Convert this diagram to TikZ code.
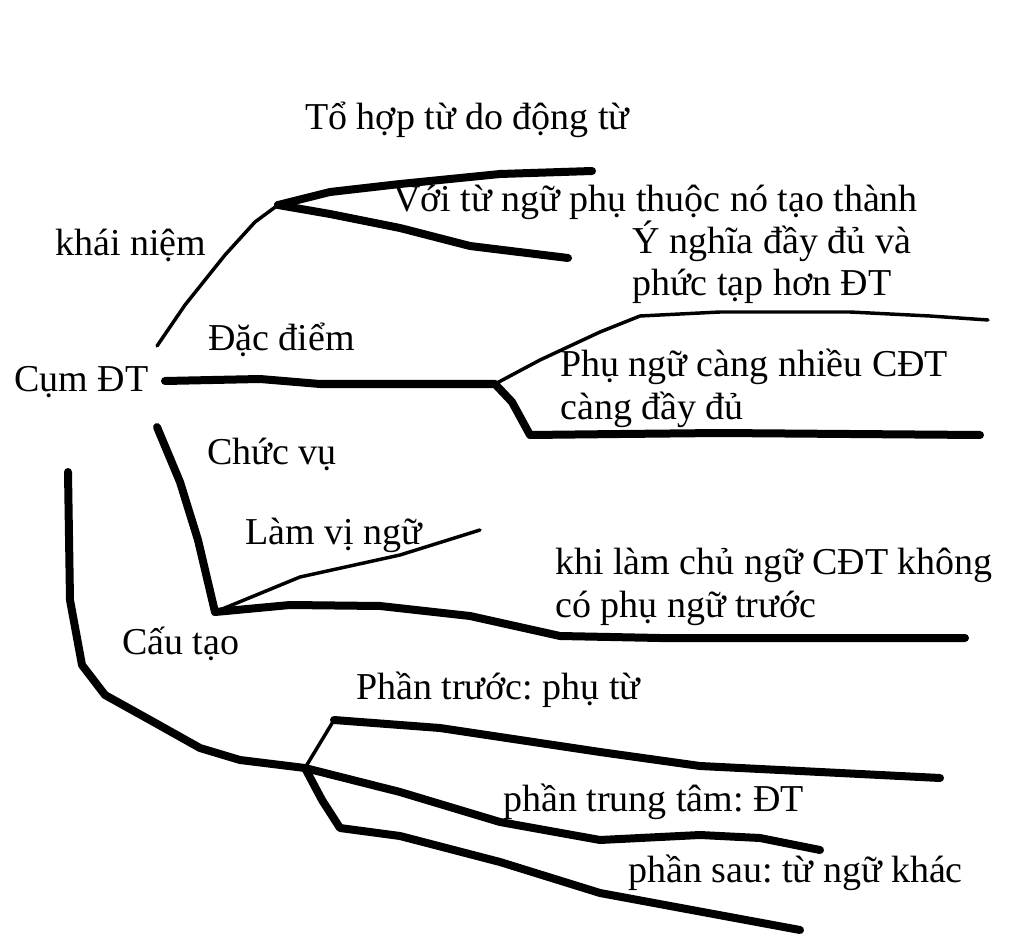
\documentclass[tikz,border=0pt]{standalone}
\usepackage{fontspec}
\setmainfont{Liberation Serif}
\frenchspacing
\tikzstyle{sketch}=[x=0.75pt,y=-0.75pt]
\tikzstyle{branch}=[line width=6pt,line cap=round,line join=round]
\tikzstyle{twig}=[line width=2.6pt,line cap=round,line join=round]
\tikzstyle{label}=[anchor=base west,inner sep=0pt,align=left]

\begin{document}
\begin{tikzpicture}[sketch,font=\fontsize{28.5}{32}\selectfont]
	\useasboundingbox (0,0) rectangle (1024,948);
	\coordinate (kn) at (278,205);
	\coordinate (dd) at (495,384);
	\coordinate (cv) at (215,612);
	\coordinate (ct) at (305,768);
%
	\node[label] (root) at (14,392) {Cụm ĐT};
	\node[label] (khainiem) at (55,256) {khái niệm};
	\node[label] (tohop) at (305,130) {Tổ hợp từ do động từ};
	\node[label] (voitu) at (393,212) {Với từ ngữ phụ thuộc nó tạo thành};
	\node[label] (ynghia) at (632,296) {Ý nghĩa đầy đủ và\\phức tạp hơn ĐT};
	\node[label] (dacdiem) at (208,351) {Đặc điểm};
	\node[label] (phungu) at (560,419) {Phụ ngữ càng nhiều CĐT\\càng đầy đủ};
	\node[label] (chucvu) at (207,464) {Chức vụ};
	\node[label] (vingu) at (245,544) {Làm vị ngữ};
	\node[label] (chungu) at (555,617) {khi làm chủ ngữ CĐT không\\có phụ ngữ trước};
	\node[label] (cautao) at (122,654) {Cấu tạo};
	\node[label] (truoc) at (356,699) {Phần trước: phụ từ};
	\node[label] (trungtam) at (503,811) {phần trung tâm: ĐT};
	\node[label] (sau) at (628,882) {phần sau: từ ngữ khác};
%
	\draw[twig] (157,346) -- (185,305) -- (225,255) -- (255,222) -- (kn);
	\draw[branch] (kn) -- (330,192) -- (400,184) -- (500,174) -- (592,171);
	\draw[branch] (kn) -- (330,214) -- (400,228) -- (470,246) -- (568,258);
%
	\draw[branch] (165,381) -- (260,379) -- (320,384) -- (420,384) -- (dd);
	\draw[twig] (dd) -- (540,360) -- (600,332) -- (640,316) -- (720,312)
		-- (850,312) -- (930,316) -- (988,320);
	\draw[branch] (dd) -- (512,402) -- (530,435) -- (620,434) -- (720,433)
		-- (980,435);
%
	\draw[branch] (157,427) -- (180,482) -- (198,540) -- (cv);
	\draw[twig] (cv) -- (300,577) -- (400,555) -- (480,530);
	\draw[branch] (cv) -- (290,605) -- (380,606) -- (470,616) -- (560,636)
		-- (660,638) -- (965,638);
%
	\draw[branch] (68,472) -- (70,600) -- (82,665) -- (105,695) -- (150,720)
		-- (200,748) -- (240,760) -- (ct) -- (400,792) -- (500,822)
		-- (600,840) -- (700,835) -- (760,838) -- (820,850);
	\draw[twig] (ct) -- (334,720);
	\draw[branch] (334,720) -- (440,728) -- (600,752) -- (700,766) -- (940,778);
	\draw[branch] (ct) -- (322,800) -- (340,828) -- (400,836) -- (500,862)
		-- (600,893) -- (800,930);
\end{tikzpicture}
\end{document}
